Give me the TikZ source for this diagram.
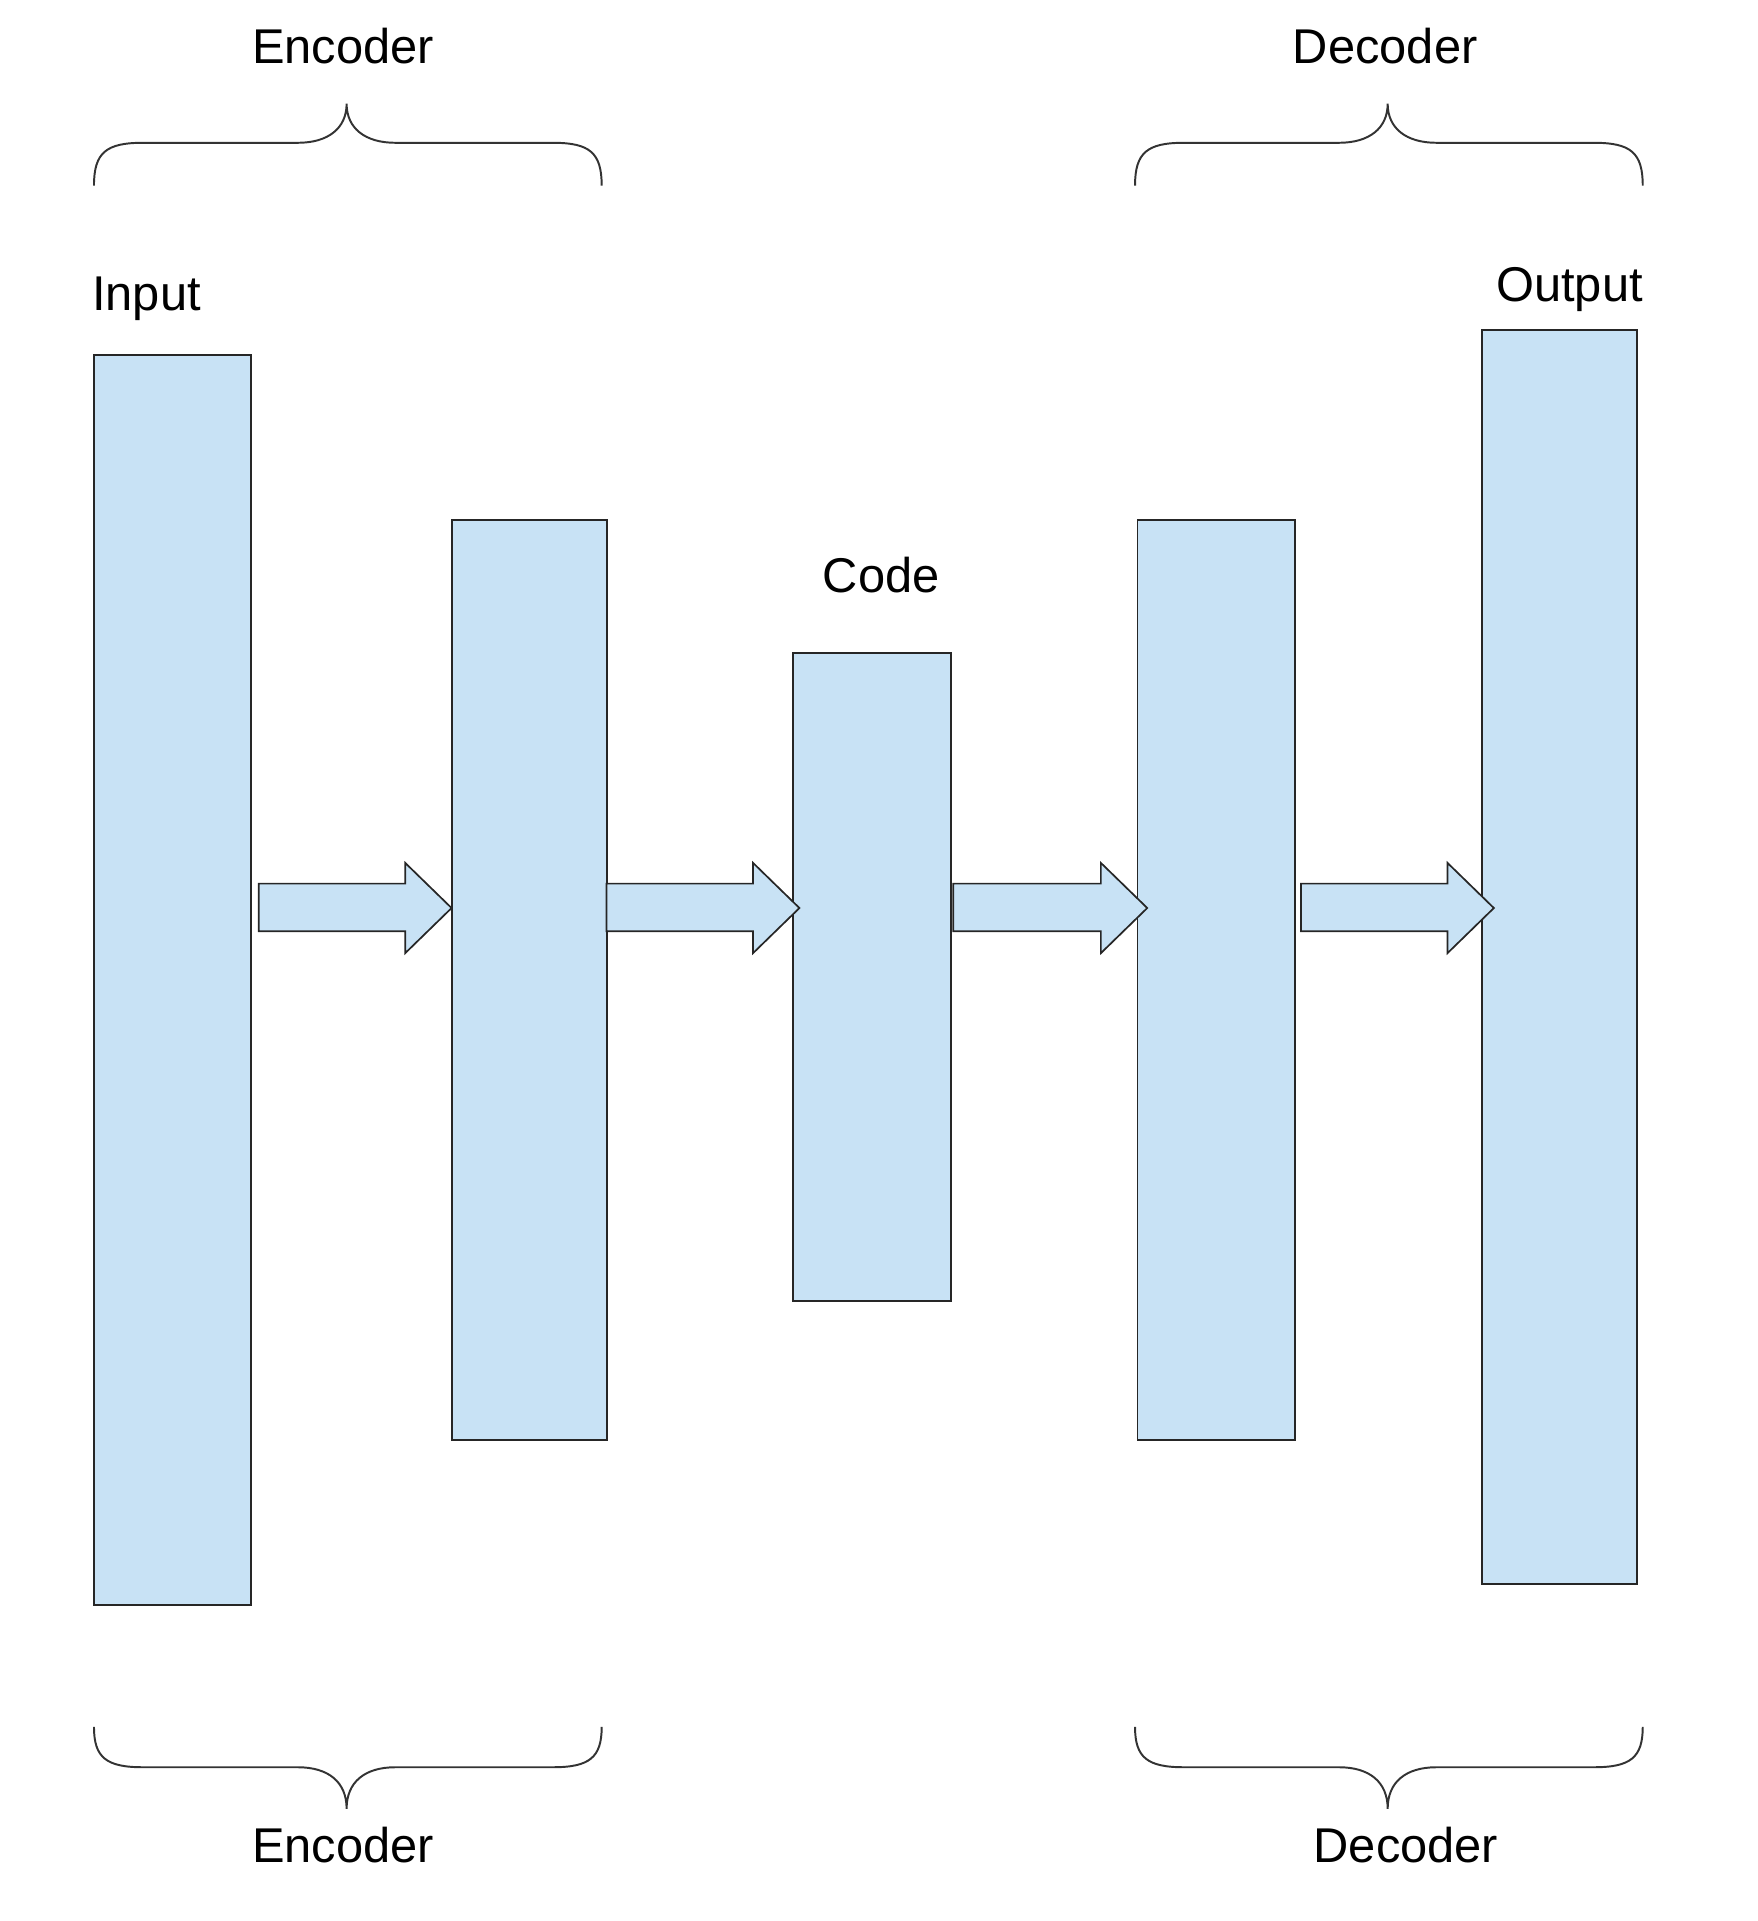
\documentclass[tikz,border=0pt]{standalone}
\usepackage{fontspec}
\setmainfont{Liberation Sans}
\begin{document}
\begin{tikzpicture}[x=1pt,y=-1pt,
  layer/.style={draw=black!85,fill=blue!20!cyan!15!white,line width=1.6pt},
  blk/.style={fill={rgb,255:red,200;green,226;blue,245},draw=black!85,line width=1.6pt},
  lbl/.style={font=\fontsize{40}{48}\selectfont},
  brace/.style={draw=black!80,line width=1.6pt}]
\useasboundingbox (0,0) rectangle (1440,1574);
\path[blk] (77,291) rectangle (206,1315);
\path[blk] (370,426) rectangle (497,1180);
\path[blk] (650,535) rectangle (779,1066);
\path[blk] (932,426) rectangle (1061,1180);
\path[blk] (1214,270) rectangle (1341,1298);
\node[lbl,anchor=west] (in) at (72,245) {Input};
\node[lbl] (code) at (722,471) {Code};
\node[lbl] (out) at (1286,237) {Output};
\foreach \a/\b in {212/370,497/655,781/940,1066/1224}{
  \path[blk,line width=1.4pt] (\a,724) -- (\b-38,724) -- (\b-38,707) -- (\b,744) -- (\b-38,781) -- (\b-38,763) -- (\a,763) -- cycle;
}
% braces
\foreach \l/\m/\r/\t/\b in {77/284/493/Encoder/0,930/1137/1346/Decoder/0}{
  \draw[brace] (\l,152) .. controls (\l,125) and (\l+10,117) .. (\l+40,117) -- (\m-40,117) .. controls (\m-15,117) and (\m,105) .. (\m,85)
     .. controls (\m,105) and (\m+15,117) .. (\m+40,117) -- (\r-40,117) .. controls (\r-10,117) and (\r,125) .. (\r,152);
  \draw[brace] (\l,1415) .. controls (\l,1440) and (\l+10,1448) .. (\l+40,1448) -- (\m-40,1448) .. controls (\m-15,1448) and (\m,1460) .. (\m,1482)
     .. controls (\m,1460) and (\m+15,1448) .. (\m+40,1448) -- (\r-40,1448) .. controls (\r-10,1448) and (\r,1440) .. (\r,1415);
}
\node[lbl] (et) at (281,38) {Encoder};
\node[lbl] (dt) at (1135,38) {Decoder};
\node[lbl] (eb) at (281,1512) {Encoder};
\node[lbl] (db) at (1152,1512) {Decoder};
\end{tikzpicture}
\end{document}
